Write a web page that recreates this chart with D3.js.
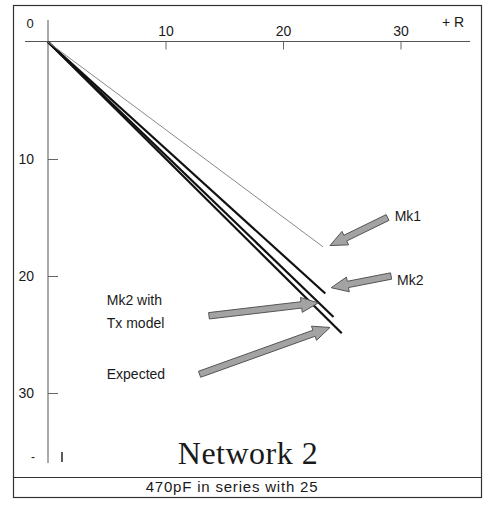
<!DOCTYPE html>
<html>
<head>
<meta charset="utf-8">
<script src="https://cdn.jsdelivr.net/npm/d3@7"></script>
<style>
  body { margin: 0; background: #fff; }
  svg text { font-family: "Liberation Sans", Arial, sans-serif; fill: #1a1a1a; }
</style>
</head>
<body>
<svg id="chart"></svg>
<script>
// chart size
const width = 490;
const height = 514;

// tick labels on both axes
const tickValues = [10, 20, 30];

// series: [R, X] pairs
const mk1 = [[0, 0], [23.4, 17.5]];
const mk2 = [[0, 0], [23.6, 21.5]];
const mk2Tx = [[0, 0], [24.3, 23.5]];
const expected = [[0, 0], [25.0, 24.9]];

const seriesNames = ["Mk1", "Mk2", "Mk2 with Tx model", "Expected"];

// arrow annotations, tail and tip in data units
const arrowTails = [[28.9, 15.0], [29.2, 20.0], [13.7, 23.4], [12.9, 28.4]];
const arrowTips = [[24.0, 17.4], [24.1, 21.0], [23.0, 22.3], [24.0, 24.4]];

// label lines for the annotations, anchor in data units
const labelLines = [["Mk1"], ["Mk2"], ["Mk2 with", "Tx model"], ["Expected"]];
const labelAnchors = [[29.5, 15.3], [29.7, 20.8], [5.0, 22.5], [5.0, 28.8]];

const titleText = "Network 2";
const captionText = "470pF in series with 25";

const svg = d3.select("#chart")
              .attr("width", width)
              .attr("height", height);

// same pixel size per unit on both axes
const x = d3.scaleLinear().domain([0, 30]).range([48, 400.5]);
const y = d3.scaleLinear().domain([0, 30]).range([42, 393]);

// outer frame and caption divider
svg.append("rect")
   .attr("x", 13.5).attr("y", 5.5)
   .attr("width", 468).attr("height", 492)
   .attr("fill", "none")
   .attr("stroke", "#333")
   .attr("stroke-width", 1.2);
svg.append("line")
   .attr("x1", 13.5).attr("x2", 481.5)
   .attr("y1", 477.5).attr("y2", 477.5)
   .attr("stroke", "#333")
   .attr("stroke-width", 1.2);

// axis lines
svg.append("line")
   .attr("x1", 25).attr("x2", 470)
   .attr("y1", y(0) - 0.5).attr("y2", y(0) - 0.5)
   .attr("stroke", "#555");
svg.append("line")
   .attr("x1", x(0)).attr("x2", x(0))
   .attr("y1", 20).attr("y2", 463)
   .attr("stroke", "#555");

// R axis along the top, ticks hang down, labels above
const xAxis = svg.append("g")
   .attr("transform", `translate(0,${y(0) - 0.5})`)
   .call(d3.axisTop(x).tickValues(tickValues).tickSizeInner(-8).tickSizeOuter(0).tickPadding(6));
xAxis.select(".domain").remove();
xAxis.selectAll("line").attr("stroke", "#666");
xAxis.selectAll("text")
     .attr("dy", "0")
     .style("font-size", "14px")
     .style("font-family", "Liberation Sans, Arial, sans-serif")
     .attr("fill", "#1a1a1a");

// X axis down the left side, ticks point right
const yAxis = svg.append("g")
   .attr("transform", `translate(${x(0)},0)`)
   .call(d3.axisLeft(y).tickValues(tickValues).tickSizeInner(-10).tickSizeOuter(0).tickPadding(14));
yAxis.select(".domain").remove();
yAxis.selectAll("line").attr("stroke", "#666");
yAxis.selectAll("text")
     .style("font-size", "14px")
     .style("font-family", "Liberation Sans, Arial, sans-serif")
     .attr("fill", "#1a1a1a");

// origin and axis name labels
svg.append("text").attr("x", 30).attr("y", 28)
   .attr("text-anchor", "middle").style("font-size", "13px").text("0");
svg.append("text").attr("x", 442).attr("y", 27)
   .style("font-size", "14px").text("+ R");

// stray marks at the bottom of the plot
svg.append("text").attr("x", 33).attr("y", 461)
   .attr("text-anchor", "middle").style("font-size", "12px").text("-");
svg.append("line")
   .attr("x1", 62).attr("x2", 62).attr("y1", 452).attr("y2", 462)
   .attr("stroke", "#333").attr("stroke-width", 1.6);

// the four traces
const line = d3.line().x(d => x(d[0])).y(d => y(d[1]));
const traces = [
  { name: seriesNames[3], values: expected, color: "#111", w: 2.2 },
  { name: seriesNames[2], values: mk2Tx, color: "#111", w: 2.2 },
  { name: seriesNames[1], values: mk2, color: "#111", w: 2.2 },
  { name: seriesNames[0], values: mk1, color: "#888", w: 1 }
];
svg.selectAll("path.trace")
   .data(traces)
   .enter().append("path")
   .attr("class", "trace")
   .attr("d", d => line(d.values))
   .attr("fill", "none")
   .attr("stroke", d => d.color)
   .attr("stroke-width", d => d.w);

// block arrow polygon from tail to tip
function arrowPath(tail, tip) {
  const x0 = x(tail[0]), y0 = y(tail[1]);
  const x1 = x(tip[0]), y1 = y(tip[1]);
  const len = Math.hypot(x1 - x0, y1 - y0);
  const ux = (x1 - x0) / len, uy = (y1 - y0) / len;
  const nx = -uy, ny = ux;
  const headLen = 17, shaft = 3.2, head = 7.5;
  const bx = x1 - ux * headLen, by = y1 - uy * headLen;
  const pts = [
    [x0 + nx * shaft, y0 + ny * shaft],
    [bx + nx * shaft, by + ny * shaft],
    [bx + nx * head, by + ny * head],
    [x1, y1],
    [bx - nx * head, by - ny * head],
    [bx - nx * shaft, by - ny * shaft],
    [x0 - nx * shaft, y0 - ny * shaft]
  ];
  return "M" + pts.map(p => p.join(",")).join("L") + "Z";
}

svg.selectAll("path.arrow")
   .data(arrowTails)
   .enter().append("path")
   .attr("class", "arrow")
   .attr("d", (d, i) => arrowPath(d, arrowTips[i]))
   .attr("fill", "#a3a3a3")
   .attr("stroke", "#555")
   .attr("stroke-width", 1);

// annotation labels
labelLines.forEach((lines, i) => {
  const t = svg.append("text")
     .attr("x", x(labelAnchors[i][0]))
     .attr("y", y(labelAnchors[i][1]))
     .style("font-size", "14px");
  lines.forEach((s, j) => {
    t.append("tspan")
     .attr("x", x(labelAnchors[i][0]))
     .attr("dy", j === 0 ? 0 : 23)
     .text(s);
  });
});

// title inside the plot and caption under it
svg.append("text")
   .attr("x", 248).attr("y", 464)
   .attr("text-anchor", "middle")
   .style("font-family", "Liberation Serif, Times New Roman, serif")
   .style("font-size", "32px")
   .style("letter-spacing", "0.5px")
   .attr("fill", "#111")
   .text(titleText);

svg.append("text")
   .attr("x", 232).attr("y", 492)
   .attr("text-anchor", "middle")
   .style("font-size", "15px")
   .style("letter-spacing", "0.8px")
   .text(captionText);
</script>
</body>
</html>
